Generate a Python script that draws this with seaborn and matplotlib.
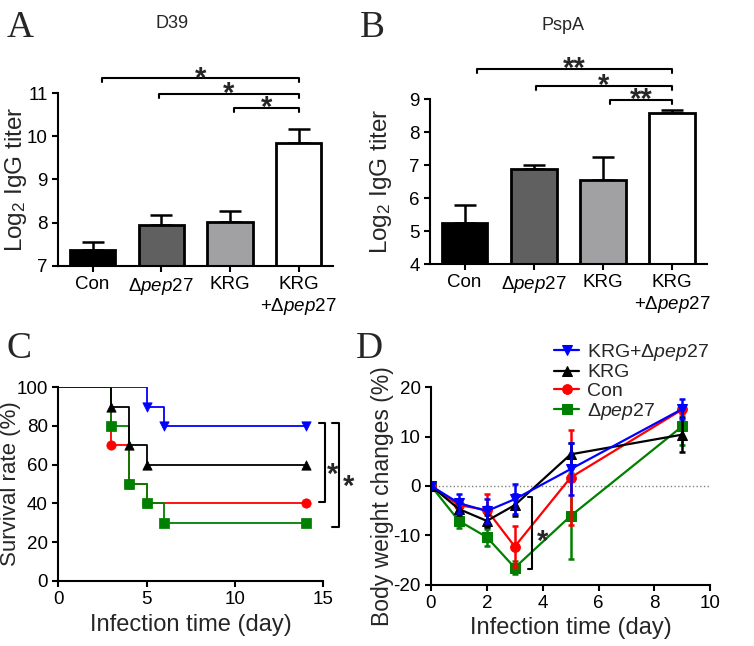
import matplotlib
matplotlib.use('Agg')
import matplotlib.pyplot as plt
import seaborn as sns

# bar data (panels A, B)
groups = ['Con', 'dpep27', 'KRG', 'KRG+dpep27']
tick_labels = ['Con', 'Δ$\\mathit{pep27}$', 'KRG', 'KRG\n+Δ$\\mathit{pep27}$']
bar_colors = ['#000000', '#606060', '#a1a1a4', '#ffffff']

d39_mean = [7.36, 7.95, 8.01, 9.85]
d39_sem = [0.18, 0.23, 0.26, 0.32]
pspa_mean = [5.23, 6.89, 6.55, 8.57]
pspa_sem = [0.56, 0.11, 0.70, 0.10]

# survival (panel C)
surv_days = {
    'Con': [0, 3, 4, 5, 14],
    'dpep27': [0, 3, 4, 5, 6, 14],
    'KRG': [0, 3, 4, 5, 14],
    'KRG+dpep27': [0, 5, 6, 14],
}
surv_rate = {
    'Con': [100, 70, 50, 40, 40],
    'dpep27': [100, 80, 50, 40, 30, 30],
    'KRG': [100, 90, 70, 60, 60],
    'KRG+dpep27': [100, 90, 80, 80],
}

# body weight (panel D)
bw_days = [0, 1, 2, 3, 5, 9]
bw_mean = {
    'KRG+dpep27': [0, -3.5, -5.1, -2.7, 3.4, 15.6],
    'KRG': [0, -4.7, -7.1, -3.9, 6.4, 10.4],
    'Con': [0, -3.9, -4.9, -12.3, 1.7, 15.5],
    'dpep27': [0, -7.1, -10.4, -16.6, -6.1, 12.1],
}
bw_err = {
    'KRG+dpep27': [0, 1.95, 2.4, 3.1, 5.3, 2.0],
    'KRG': [0, 1.2, 1.2, 2.3, 2.2, 3.5],
    'Con': [0, 1.0, 3.2, 4.2, 9.7, 1.0],
    'dpep27': [0, 1.5, 1.7, 1.3, 8.8, 3.8],
}

colors = {'KRG+dpep27': '#0000ff', 'KRG': '#000000', 'Con': '#ff0000', 'dpep27': '#008000'}
markers = {'KRG+dpep27': 'v', 'KRG': '^', 'Con': 'o', 'dpep27': 's'}
legend_names = {'KRG+dpep27': 'KRG+Δ$\\mathit{pep27}$', 'KRG': 'KRG',
                'Con': 'Con', 'dpep27': 'Δ$\\mathit{pep27}$'}

sns.set_style('ticks')
plt.rcParams['font.family'] = ['Liberation Sans', 'DejaVu Sans']
plt.rcParams['mathtext.fontset'] = 'custom'
plt.rcParams['mathtext.rm'] = 'Liberation Sans'
plt.rcParams['mathtext.it'] = 'Liberation Sans:italic'
plt.rcParams['axes.linewidth'] = 1.5
plt.rcParams['axes.unicode_minus'] = False

fig = plt.figure(figsize=(7.54, 6.46), dpi=100)
axA = fig.add_axes([0.0773, 0.5887, 0.3643, 0.2669])
axB = fig.add_axes([0.5703, 0.5913, 0.3670, 0.2554])
axC = fig.add_axes([0.0773, 0.1011, 0.3515, 0.2994])
axD = fig.add_axes([0.5716, 0.0952, 0.3704, 0.3053])


def style(ax):
    sns.despine(ax=ax)
    ax.tick_params(direction='out', length=4, width=1.5, labelsize=13.5, colors='black')
    for s in ax.spines.values():
        s.set_color('black')


def star(ax, x, y, s, dy):
    # dy: offset of the baseline in points
    ax.annotate(s, (x, y), xytext=(0, dy), textcoords='offset points',
                ha='center', va='baseline', fontsize=21, fontweight='bold',
                annotation_clip=False)


def bar_panel(ax, means, sems, ylim):
    sns.barplot(x=groups, y=means, hue=groups, palette=bar_colors, legend=False,
                width=0.66, edgecolor='black', linewidth=2, saturation=1,
                errorbar=None, ax=ax)
    ax.errorbar(range(4), means, yerr=[[0] * 4, sems], fmt='none', ecolor='black',
                elinewidth=1.8, capsize=8, capthick=1.8, zorder=0.5)
    ax.set_xlim(-0.5, 3.5)
    ax.set_ylim(*ylim)
    ax.set_xticks(range(4))
    ax.set_xticklabels(tick_labels)
    ax.set_xlabel('')
    ax.set_ylabel('Log$_2$ IgG titer', fontsize=17.5)
    style(ax)


def hbracket(ax, x1, x2, y, h, s):
    ax.plot([x1, x1, x2, x2], [y - h, y, y, y - h], color='black', lw=1.5, clip_on=False)
    star(ax, (x1 + x2) / 2, y, s, -6)


# A
bar_panel(axA, d39_mean, d39_sem, (7, 11))
axA.set_yticks([7, 8, 9, 10, 11])
hbracket(axA, 0.13, 3.0, 11.35, 0.09, '*')
hbracket(axA, 0.97, 3.0, 10.99, 0.09, '*')
hbracket(axA, 2.06, 3.0, 10.66, 0.09, '*')
axA.yaxis.set_label_coords(-0.108, 0.5)

# B
bar_panel(axB, pspa_mean, pspa_sem, (4, 9))
axB.set_yticks([4, 5, 6, 7, 8, 9])
hbracket(axB, 0.18, 3.0, 9.91, 0.12, '**')
hbracket(axB, 1.03, 3.0, 9.40, 0.12, '*')
hbracket(axB, 2.10, 3.0, 8.97, 0.12, '**')
axB.yaxis.set_label_coords(-0.13, 0.5)

# C
for key in ['Con', 'dpep27', 'KRG', 'KRG+dpep27']:
    sns.lineplot(x=surv_days[key], y=surv_rate[key], drawstyle='steps-post',
                 color=colors[key], lw=1.3, ax=axC)
    sns.scatterplot(x=surv_days[key][1:], y=surv_rate[key][1:], marker=markers[key],
                    color=colors[key], edgecolor=colors[key], s=45, zorder=3, ax=axC)
axC.set_xlim(0, 15)
axC.set_ylim(0, 100)
axC.set_xticks([0, 5, 10, 15])
axC.set_yticks(range(0, 101, 20))
axC.set_xlabel('Infection time (day)', fontsize=17)
axC.set_ylabel('Survival rate (%)', fontsize=16)
axC.yaxis.set_label_coords(-0.14, 0.5)
style(axC)
axC.plot([14.75, 15.1, 15.1, 14.75], [81.5, 81.5, 40.5, 40.5], color='black', lw=1.5, clip_on=False)
axC.plot([15.5, 15.9, 15.9, 15.5], [81.5, 81.5, 27.8, 27.8], color='black', lw=1.5, clip_on=False)
star(axC, 15.5, 59, '*', -12)
star(axC, 16.45, 53, '*', -12)

# D
axD.axhline(0, color='#808080', lw=1, ls=':', zorder=0)
for key in ['dpep27', 'Con', 'KRG', 'KRG+dpep27']:
    c = colors[key]
    axD.errorbar(bw_days, bw_mean[key], yerr=bw_err[key], fmt='none', ecolor=c,
                 elinewidth=1.8, capsize=2.5, capthick=1.8)
    sns.lineplot(x=bw_days, y=bw_mean[key], color=c, lw=1.6, marker=markers[key],
                 markersize=7, markeredgecolor=c, label=legend_names[key], ax=axD)
h, l = axD.get_legend_handles_labels()
order = [legend_names[k] for k in ['KRG+dpep27', 'KRG', 'Con', 'dpep27']]
hd = dict(zip(l, h))
axD.legend([hd[o] for o in order], order, loc='upper left', bbox_to_anchor=(0.44, 1.23),
           frameon=False, fontsize=14, borderpad=0, borderaxespad=0, labelspacing=0.05,
           handlelength=1.3, handletextpad=0.4)
axD.set_xlim(0, 10)
axD.set_ylim(-20, 20)
axD.set_xticks(range(0, 11, 2))
axD.set_yticks([-20, -10, 0, 10, 20])
axD.set_xlabel('Infection time (day)', fontsize=17)
axD.set_ylabel('Body weight changes (%)', fontsize=16.5)
axD.yaxis.set_label_coords(-0.133, 0.45)
style(axD)
axD.plot([3.46, 3.6, 3.6, 3.46], [-2.3, -2.3, -16.9, -16.9], color='black', lw=1.5, clip_on=False)
star(axD, 4.0, -9.7, '*', -12)

# titles and panel letters
fig.text(172 / 754, 1 - 24 / 646, 'D39', ha='center', va='center', fontsize=13)
fig.text(563 / 754, 1 - 25 / 646, 'PspA', ha='center', va='center', fontsize=13)
for letter, x, y in [('A', 7, 37), ('B', 360, 37), ('C', 7, 358), ('D', 356, 358)]:
    fig.text(x / 754, 1 - y / 646, letter, ha='left', va='baseline', fontsize=27,
             family=['Liberation Serif', 'DejaVu Serif'])

fig.savefig('out.png', dpi=100)
